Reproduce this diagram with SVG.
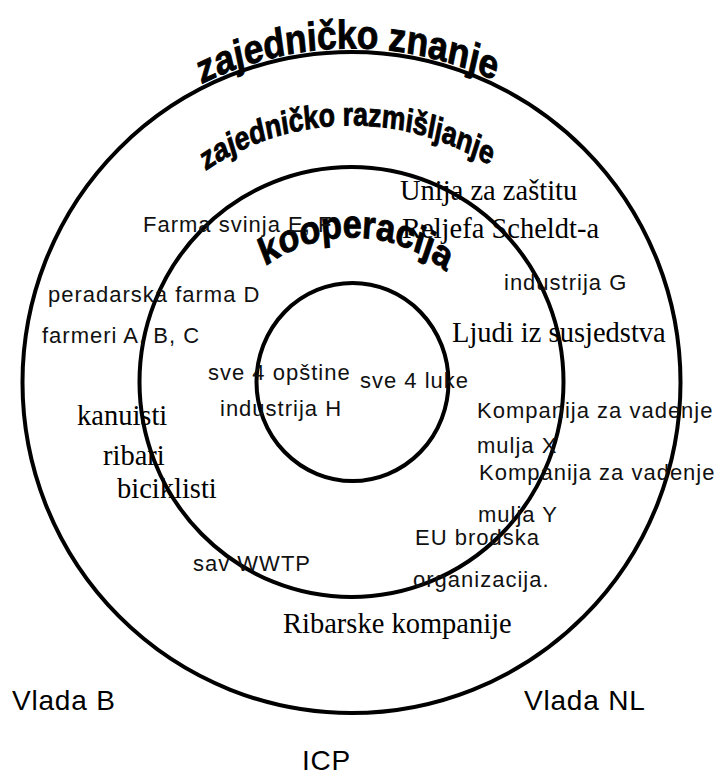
<svg xmlns="http://www.w3.org/2000/svg" width="717" height="776" viewBox="0 0 717 776">
<style>
.ring{fill:none;stroke:#000;stroke-width:4}
.s{font-family:"Liberation Sans",Arial,sans-serif;font-size:22px;fill:#111;letter-spacing:1px}
.r{font-family:"Liberation Serif","Times New Roman",serif;font-size:28.5px;fill:#000}
.v{font-family:"Liberation Sans",Arial,sans-serif;font-size:28px;fill:#000;letter-spacing:0.8px}
.t{font-family:"Liberation Sans",Arial,sans-serif;font-weight:bold;fill:#000;stroke:#000;stroke-width:0.7}
</style>
<defs>
<path id="arc1" d="M 17.5 294.2 A 334 256.9 0 0 1 685.5 294.2"/>
<path id="arc2" d="M 94.5 294.2 A 257 197.7 0 0 1 608.5 294.2"/>
<path id="arc3" d="M 207.5 294.2 A 145 111.5 0 0 1 497.5 294.2"/>
</defs>
<rect width="717" height="776" fill="#fff"/>
<g id="rings">
<ellipse id="outer" class="ring" cx="351.5" cy="382.5" rx="329" ry="330.5"/>
<ellipse id="middle" class="ring" cx="351.5" cy="382" rx="212" ry="215"/>
<ellipse id="inner" class="ring" cx="352.5" cy="382" rx="96" ry="99"/>
</g>
<g id="titles" transform="scale(1,1.3)">
<text class="t" font-size="31"><textPath href="#arc1" startOffset="49.6%" text-anchor="middle" textLength="300" lengthAdjust="spacingAndGlyphs">zajedničko znanje</textPath></text>
<text class="t" font-size="25"><textPath href="#arc2" startOffset="49.4%" text-anchor="middle" textLength="295" lengthAdjust="spacingAndGlyphs">zajedničko razmišljanje</textPath></text>
<text class="t" font-size="30"><textPath href="#arc3" startOffset="50.9%" text-anchor="middle" textLength="190" lengthAdjust="spacingAndGlyphs">kooperacija</textPath></text>
</g>
<g id="labels">
<text class="s" x="143" y="232">Farma svinja E, F</text>
<text class="s" x="48" y="302">peradarska farma D</text>
<text class="s" x="42" y="343">farmeri A, B, C</text>
<text class="s" x="208" y="380">sve 4 opštine</text>
<text class="s" x="220" y="416">industrija H</text>
<text class="s" x="360" y="388">sve 4 luke</text>
<text class="s" x="504" y="290">industrija G</text>
<text class="s" x="477" y="418">Kompanija za vadenje</text>
<text class="s" x="477" y="453">mulja X</text>
<text class="s" x="479" y="480">Kompanija za vadenje</text>
<text class="s" x="478" y="522">mulja Y</text>
<text class="s" x="415" y="545">EU brodska</text>
<text class="s" x="413" y="587">organizacija.</text>
<text class="s" x="193" y="571">sav WWTP</text>
<text class="r" x="400" y="200">Unija za zaštitu</text>
<text class="r" x="402" y="238">Reljefa Scheldt-a</text>
<text class="r" x="452" y="342">Ljudi iz susjedstva</text>
<text class="r" x="77" y="425">kanuisti</text>
<text class="r" x="103" y="465">ribari</text>
<text class="r" x="117" y="498">biciklisti</text>
<text class="r" x="283" y="633">Ribarske kompanije</text>
<text class="v" x="12" y="710">Vlada B</text>
<text class="v" x="524" y="710">Vlada NL</text>
<text class="v" x="302" y="770">ICP</text>
</g>
</svg>
